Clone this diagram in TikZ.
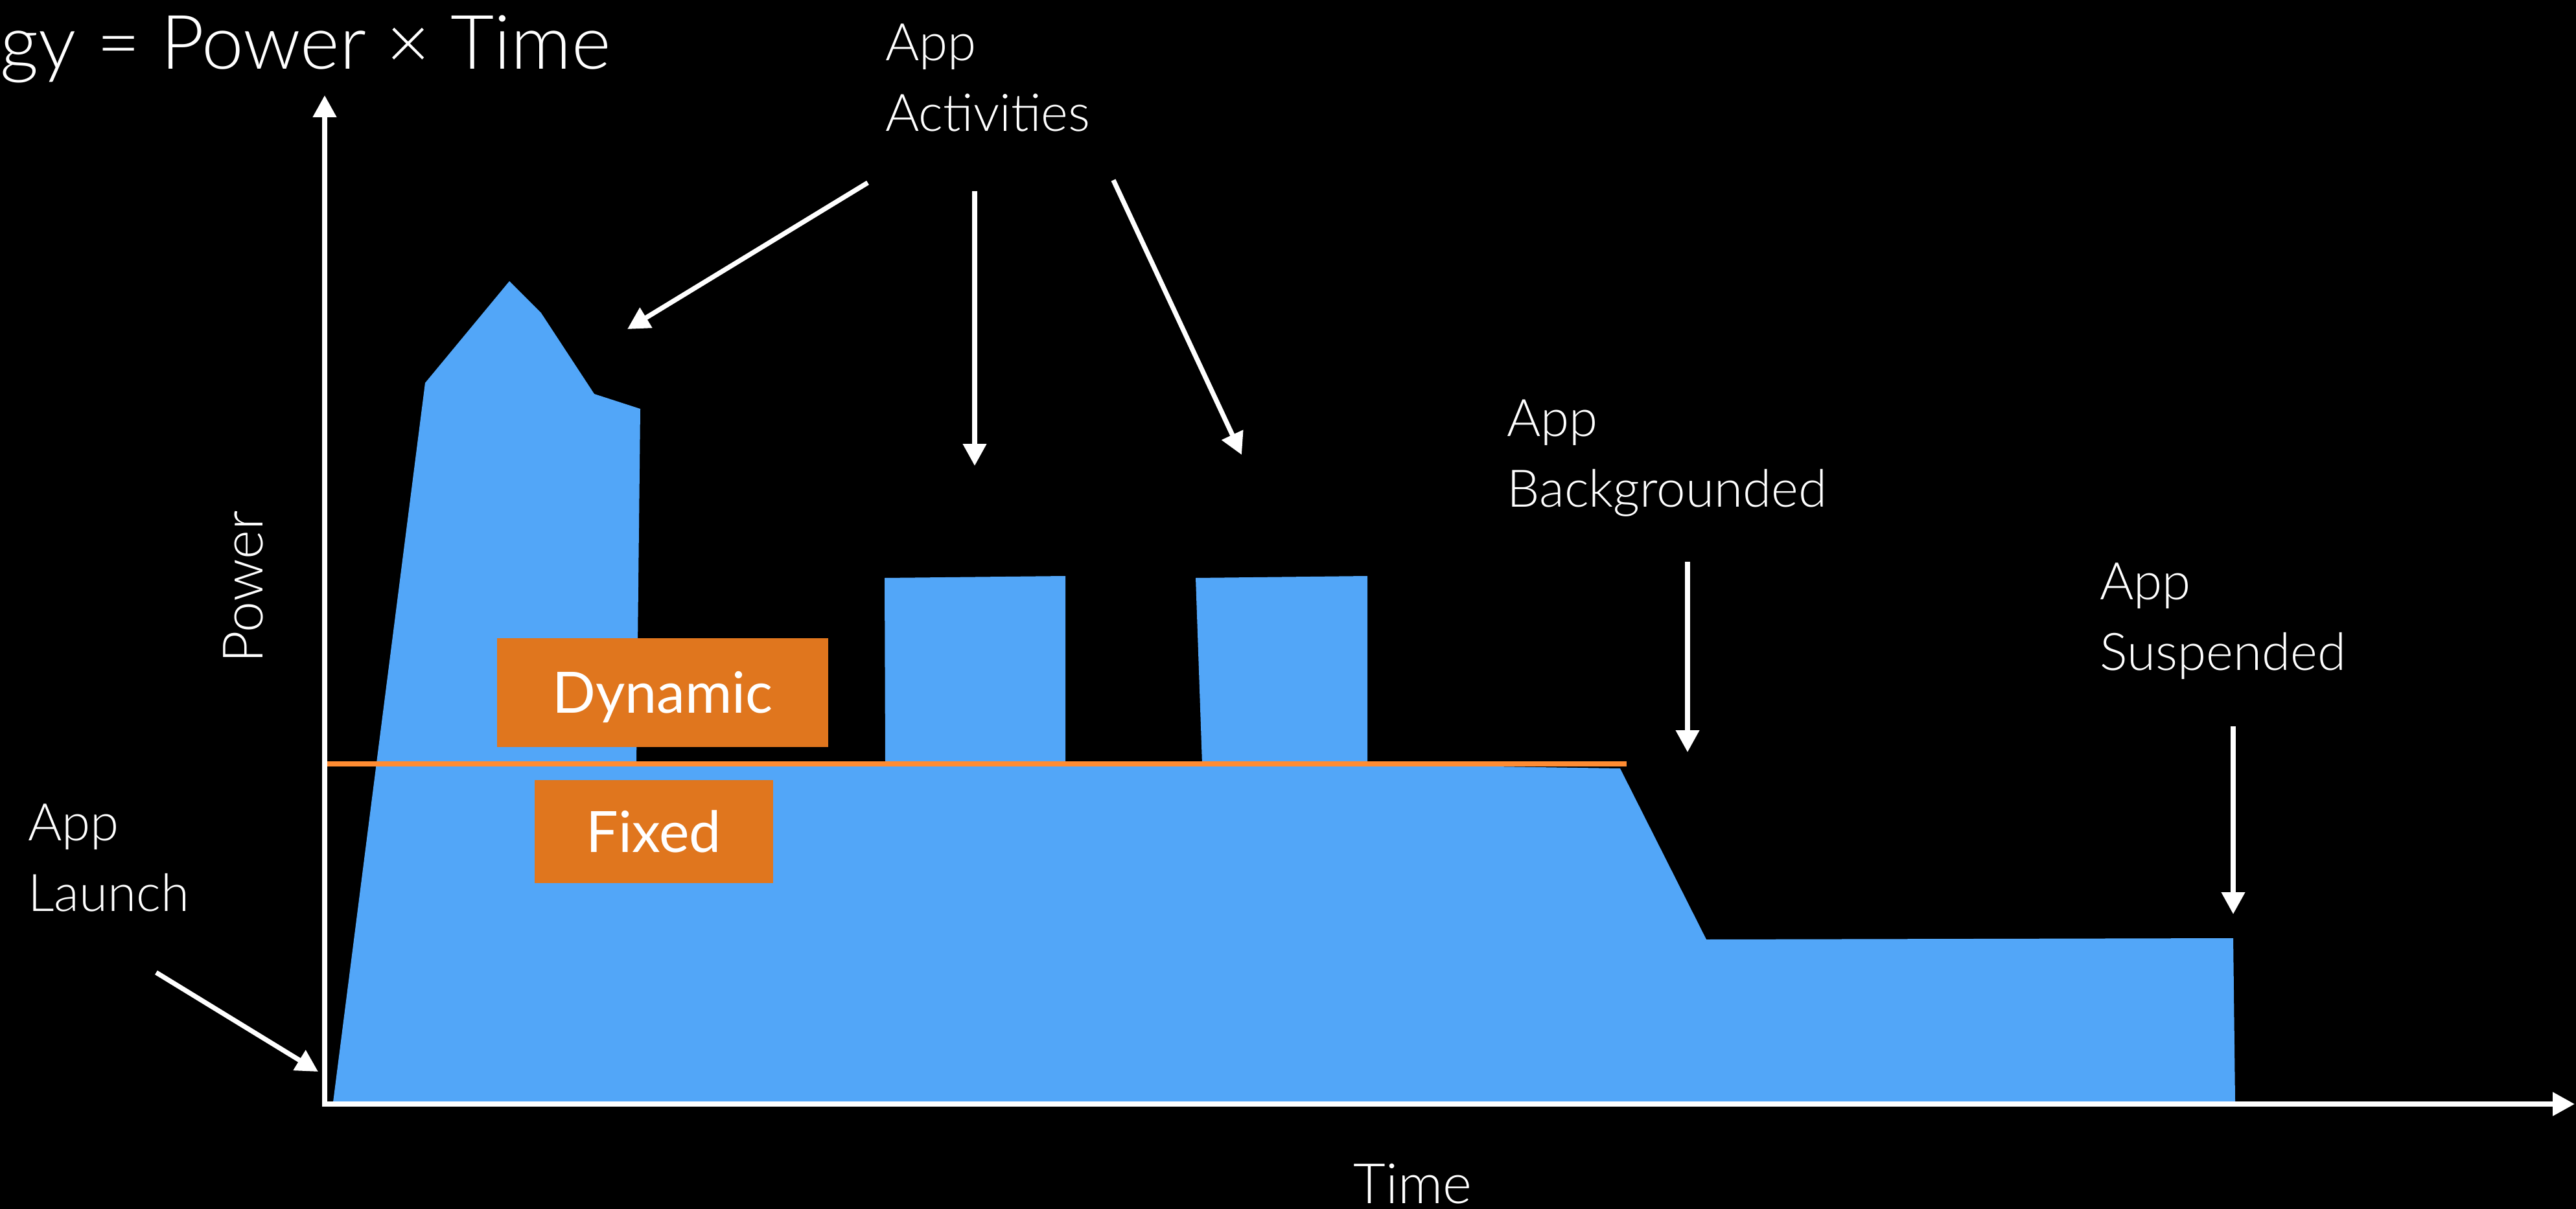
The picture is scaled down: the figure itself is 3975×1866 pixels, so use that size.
\documentclass[tikz,border=0pt]{standalone}
\usepackage{fontspec}
\setmainfont{Lato}
\newfontfamily\lightfont{Lato Light}
\usetikzlibrary{arrows.meta}

\definecolor{powerblue}{RGB}{82,166,248}
\definecolor{boxorange}{RGB}{224,118,30}
\definecolor{lineorange}{RGB}{255,140,50}

\begin{document}
\begin{tikzpicture}[x=0.5pt,y=-0.5pt,
  axisline/.style={draw=white, line width=3.85pt, line join=miter,
    {Triangle[length=17pt,width=17.5pt]}-{Triangle[length=17pt,width=17.5pt]}},
  pointer/.style={draw=white, line width=3.7pt,
    -{Triangle[length=17pt,width=17.5pt]}},
  note/.style={text=white, inner sep=0pt, anchor=base west,
    font=\lightfont\fontsize{40}{48}\selectfont},
  axislabel/.style={text=white, inner sep=0pt, anchor=base,
    font=\lightfont\fontsize{43}{50}\selectfont},
  tagbox/.style={fill=boxorange, text=white, inner sep=0pt,
    font=\fontsize{44}{52}\selectfont, text height=31.5pt, text depth=0pt}
]
% canvas
\useasboundingbox (0,0) rectangle (3975,1866);
\fill[black] (0,0) rectangle (3975,1866);

% power profile over time
\fill[powerblue] (514,1701) -- (656,591) -- (786,434) -- (835,483) -- (917,608)
  -- (988,631) -- (982,1179) -- (1366,1179) -- (1365,892) -- (1644,889)
  -- (1644,1179) -- (1855,1179) -- (1845,892) -- (2110,889) -- (2110,1180)
  -- (2500,1186) -- (2633,1450) -- (3446,1448) -- (3449,1701) -- cycle;

% boundary between fixed and dynamic power
\draw[lineorange, line width=4pt] (501,1179) -- (2510,1179);

% axes
\coordinate (ytop) at (501,147);
\coordinate (origin) at (501,1704);
\coordinate (xend) at (3973,1704);
\draw[axisline] (ytop) -- (origin) -- (xend);

% title
\node[text=white, inner sep=0pt, anchor=base west,
  font=\lightfont\fontsize{58}{66}\selectfont] (title) at (0,107) {gy = Power × Time};

% axis labels
\node[axislabel, rotate=90] (power) at (405,906) {Power};
\node[axislabel] (time) at (2180,1857) {Time};

% energy components
\node[tagbox, minimum width=255.5pt, minimum height=84pt] (dynamic) at (1022.5,1069) {Dynamic};
\node[tagbox, minimum width=184pt, minimum height=79.5pt] (fixed) at (1009,1283.5) {Fixed};

% annotations
\node[note] (launchA) at (43,1297) {App};
\node[note] (launchB) at (43,1406) {Launch};
\node[note] (actA) at (1366,94) {App};
\node[note] (actB) at (1366,203) {Activities};
\node[note] (bgA) at (2325,673) {App};
\node[note] (bgB) at (2325,782) {Backgrounded};
\node[note] (susA) at (3240,925) {App};
\node[note] (susB) at (3240,1034) {Suspended};

% pointer ends
\coordinate (launchFrom) at (241,1501);
\coordinate (launchTo) at (491,1654);
\coordinate (actFromL) at (1339,282);
\coordinate (actToL) at (968,508);
\coordinate (actFromM) at (1504,295);
\coordinate (actToM) at (1504,719);
\coordinate (actFromR) at (1718,278);
\coordinate (actToR) at (1916,702);
\coordinate (bgFrom) at (2604,867);
\coordinate (bgTo) at (2604,1161);
\coordinate (susFrom) at (3446,1121);
\coordinate (susTo) at (3446,1411);

\draw[pointer] (launchFrom) -- (launchTo);
\draw[pointer] (actFromL) -- (actToL);
\draw[pointer] (actFromM) -- (actToM);
\draw[pointer] (actFromR) -- (actToR);
\draw[pointer] (bgFrom) -- (bgTo);
\draw[pointer] (susFrom) -- (susTo);
\end{tikzpicture}
\end{document}
